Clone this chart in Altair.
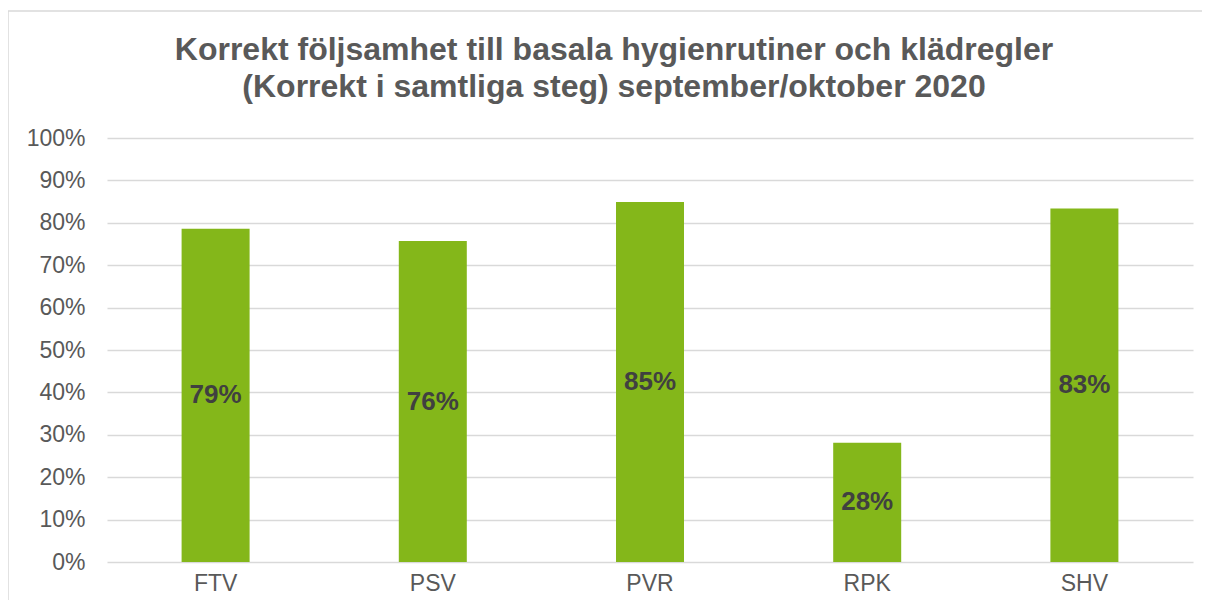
import altair as alt
import pandas as pd

categories = ["FTV", "PSV", "PVR", "RPK", "SHV"]
values = [0.786, 0.757, 0.849, 0.281, 0.834]
title_lines = ["Korrekt följsamhet till basala hygienrutiner och klädregler",
               "(Korrekt i samtliga steg) september/oktober 2020"]

df = pd.DataFrame({"cat": categories, "val": values})

FONT = "Liberation Sans"
GREY = "#595959"

base = alt.Chart(df)

bars = base.mark_bar(size=68, color="#84B71A").encode(
    x=alt.X("cat:N", sort=categories, title=None,
            scale=alt.Scale(paddingInner=0, paddingOuter=0),
            axis=alt.Axis(labelAngle=0, ticks=False, domain=False, labelPadding=10,
                          labelFontSize=23, labelColor=GREY, labelFont=FONT)),
    y=alt.Y("val:Q", title=None,
            scale=alt.Scale(domain=[0, 1], nice=False),
            axis=alt.Axis(format="%", values=[i / 10 for i in range(11)], ticks=False,
                          domain=False, labelPadding=22, labelFontSize=23,
                          labelColor=GREY, labelFont=FONT, gridColor="#d9d9d9",
                          gridWidth=1.5)),
)

labels = base.transform_calculate(mid="datum.val / 2").mark_text(
    font=FONT, fontSize=26, fontWeight="bold", color="#404040", baseline="middle"
).encode(
    x=alt.X("cat:N", sort=categories),
    y=alt.Y("mid:Q"),
    text=alt.Text("val:Q", format=".0%"),
)

one = alt.Chart(alt.Data(values=[{}]))
frame = one.mark_rect(
    fill="transparent", stroke="#d9d9d9", strokeWidth=1.5
).encode(
    x=alt.value(-99), x2=alt.value(1200), y=alt.value(-127), y2=alt.value(600)
)

title1 = one.mark_text(
    font=FONT, fontSize=32, fontWeight="bold", color=GREY, align="center",
    baseline="alphabetic"
).encode(x=alt.value(507), y=alt.value(-78), text=alt.value(title_lines[0]))
title2 = one.mark_text(
    font=FONT, fontSize=32, fontWeight="bold", color=GREY, align="center",
    baseline="alphabetic"
).encode(x=alt.value(507), y=alt.value(-41), text=alt.value(title_lines[1]))

chart = alt.layer(frame, bars, labels, title1, title2).properties(
    width=1086,
    height=424,
    autosize=alt.AutoSizeParams(type="none"),
    padding={"left": 99, "top": 130, "right": 9, "bottom": 38},
    background="white",
).configure_view(strokeWidth=0)

chart.save("out.html", embed_options={"renderer": "svg", "actions": False})
